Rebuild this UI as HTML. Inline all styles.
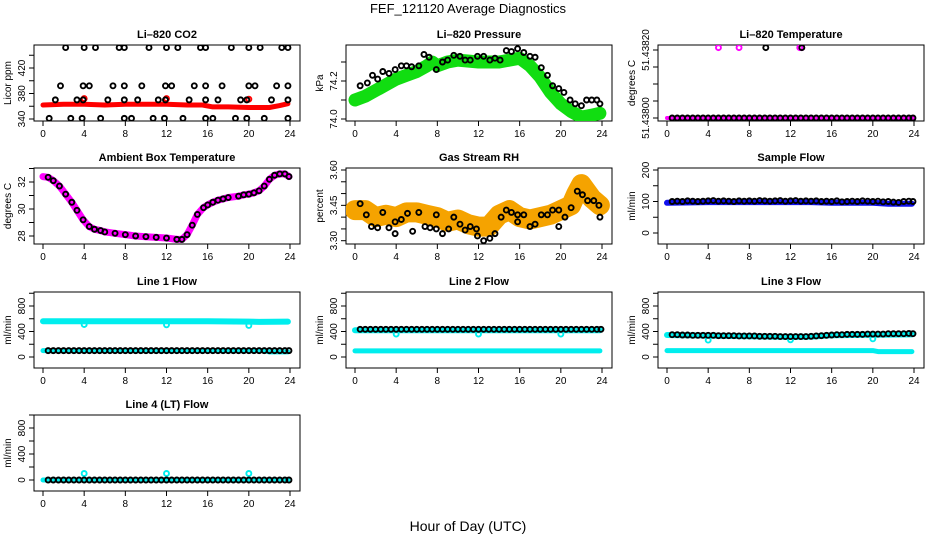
<!DOCTYPE html>
<html><head><meta charset="utf-8"><style>
html,body{margin:0;padding:0;background:#fff;}
svg{display:block;font-family:"Liberation Sans",sans-serif;}
</style></head><body>
<svg id="c" width="936" height="540" viewBox="0 0 936 540" xmlns="http://www.w3.org/2000/svg">
<text x="468" y="13" text-anchor="middle" font-size="13">FEF_121120  Average Diagnostics</text>
<text x="468" y="531" text-anchor="middle" font-size="14">Hour of Day (UTC)</text>
</svg>
<script>
// ---------- DATA ----------
const H = [0.5,1,1.5,2,2.5,3,3.5,4,4.5,5,5.5,6,6.5,7,7.5,8,8.5,9,9.5,10,10.5,11,11.5,12,12.5,13,13.5,14,14.5,15,15.5,16,16.5,17,17.5,18,18.5,19,19.5,20,20.5,21,21.5,22,22.5,23,23.5,23.9];
const xTicks = [0,4,8,12,16,20,24];

// CO2
const co2Hours = [2.2,4,5.1,7.4,7.9,10.3,12,13.1,15.3,15.8,18.3,20,21.1,23.2,23.8, 1.7,3.9,4.5,6.8,7.9,9.6,11.9,12.5,14.7,15.8,17.4,20,20.6,22.7,23.8, 1.2,3.3,3.9,6.3,7.9,9.2,11.2,11.9,14.2,15.8,17,19.2,19.8,22.2,23.8, 0.6,2.7,3.8,5.6,7.9,8.6,10.7,11.8,13.6,15.8,16.5,18.7,19.8,21.5,23.8];
const co2Values = [452,452,452,452,452,452,452,452,452,452,452,452,452,452,452, 392,392,392,392,392,392,392,392,392,392,392,392,392,392,392, 370,370,370,370,370,370,370,370,370,370,370,370,370,370,370, 341,341,341,341,341,341,341,341,341,341,341,341,341,341,341];
const co2BandHours = [0,2,4,6,8,10,12,14,15.5,16.5,18,20,22,23,23.8];
const co2BandValues = [362,363,363,362,363,363,363,362,362,359,359,358,358,361,364];
const co2SpikeHours = [4,12,20];
const co2SpikeValues = [372,372,371];

// Pressure
const presHours = [0.5,1.2,1.7,2.2,2.7,3.3,3.9,4.5,5,5.5,6.2,6.7,7.2,7.9,8.5,9,9.6,10.2,10.7,11.2,11.9,12.5,13.1,13.6,14.1,14.7,15.2,15.8,16.4,17,17.5,18.1,18.7,19.2,19.8,20.3,20.9,21.4,22,22.5,23,23.5,23.8];
const presValues = [74.175,74.19,74.23,74.21,74.25,74.24,74.26,74.28,74.28,74.275,74.28,74.34,74.325,74.26,74.30,74.31,74.335,74.33,74.31,74.31,74.33,74.33,74.31,74.32,74.31,74.36,74.355,74.37,74.35,74.33,74.325,74.27,74.23,74.175,74.16,74.14,74.10,74.08,74.07,74.10,74.10,74.10,74.08];
const presBandHours = [0,1,2,3,4,5,6,7,7.5,8,9,10,12,14,15,16,17,18,19,20,21,22,23,23.8];
const presBandValues = [74.10,74.12,74.15,74.18,74.21,74.23,74.25,74.28,74.30,74.28,74.30,74.31,74.30,74.30,74.31,74.32,74.28,74.22,74.14,74.08,74.04,74.01,74.02,74.03];

// Li-820 temperature
const tempBottom = [51.438,51.438,51.438,51.438,51.438,51.438,51.438,51.438,51.438,51.438,51.438,51.438,51.438,51.438,51.438,51.438,51.438,51.438,51.438,51.438,51.438,51.438,51.438,51.438,51.438,51.438,51.438,51.438,51.438,51.438,51.438,51.438,51.438,51.438,51.438,51.438,51.438,51.438,51.438,51.438,51.438,51.438,51.438,51.438,51.438,51.438,51.438,51.438];
const tempMagHours = [5,7,12.9,13.1];
const tempMagValues = [51.438207,51.438207,51.438207,51.438207];
const tempBlkHours = [9.6,13.1];
const tempBlkValues = [51.438207,51.438207];

// Ambient box temperature
const ambHours = [0,0.5,1,1.6,2.2,2.8,3.3,3.9,4.5,5,5.6,6,7,8,9,10,11,12,13,13.5,14,14.5,15,15.6,16,16.5,17,17.5,18,19,19.5,20,20.5,21,21.5,22,22.5,23,23.5,23.9];
const ambValues = [32.4,32.35,32.1,31.7,31.1,30.5,29.9,29.2,28.7,28.5,28.4,28.3,28.2,28.1,28.0,27.95,27.9,27.85,27.75,27.75,28.1,28.8,29.6,30.1,30.3,30.5,30.65,30.75,30.85,30.95,31.05,31.1,31.2,31.35,31.7,32.2,32.5,32.6,32.6,32.4];

// Gas stream RH
const rhHours = [0.5,1.1,1.6,2.2,2.7,3.3,3.9,3.9,4.5,5.1,5.6,6.2,6.8,7.3,7.9,7.9,8.5,9.1,9.6,10.2,10.7,11.2,11.8,11.9,12.5,13.1,13.6,14.2,14.7,15.2,15.8,15.8,16.4,17,17.5,18.1,18.7,19.2,19.8,19.8,20.4,21,21.6,22.1,22.6,23.2,23.7,23.8];
const rhValues = [3.457,3.41,3.36,3.355,3.42,3.355,3.38,3.33,3.39,3.416,3.34,3.42,3.36,3.355,3.41,3.35,3.33,3.35,3.40,3.37,3.345,3.36,3.35,3.32,3.30,3.31,3.33,3.40,3.43,3.42,3.38,3.41,3.41,3.36,3.37,3.41,3.41,3.43,3.43,3.36,3.40,3.44,3.51,3.495,3.47,3.47,3.45,3.40];
const rhBandHours = [0,1,2,3,4,5,6,7,8,9,10,11,12,13,14,15,16,17,18,19,20,21,21.5,22,23,23.8];
const rhBandValues = [3.43,3.43,3.40,3.41,3.40,3.42,3.42,3.41,3.40,3.38,3.39,3.37,3.36,3.36,3.41,3.43,3.40,3.39,3.40,3.41,3.43,3.45,3.50,3.54,3.48,3.45];

// Sample flow
const sampleValues = [100,101,100,102,101,100,101,102,103,101,102,101,100,102,101,102,101,103,102,101,102,103,101,102,103,101,102,101,102,100,101,100,102,99,100,101,100,102,101,100,101,99,100,98,97,100,101,100];
const sampleBandHours = [0,4,8,14,16,20,21.5,23.8];
const sampleBandValues = [96,98,98,98,96,96,93,93];

// Line flows
const line1Black = [100,100,100,100,100,100,100,100,100,100,100,100,100,100,100,100,100,100,100,100,100,100,100,100,100,100,100,100,100,100,100,100,100,100,100,100,100,100,100,100,100,100,100,100,100,100,100,100];
const line1UpperHours = [0,8,16,20,21,23.8];
const line1UpperValues = [560,560,560,555,550,555];
const line1LowerHours = [0,8,16,21.5,22,23.8];
const line1LowerValues = [100,100,100,100,80,80];
const dipHours = [4,12,20];
const line1Dips = [510,505,495];

const line2Black = [435,435,435,435,435,435,435,435,435,435,435,435,435,435,435,435,435,435,435,435,435,435,435,435,435,435,435,435,435,435,435,435,435,435,435,435,435,435,435,435,435,435,435,435,435,435,435,435];
const line2UpperHours = [0,12,23.8];
const line2UpperValues = [420,420,420];
const line2LowerHours = [0,12,23.8];
const line2LowerValues = [95,95,95];
const line2Dips = [360,360,360];

const line3Black = [350,350,345,345,340,340,340,340,340,335,335,335,335,330,330,330,330,325,325,325,325,320,320,320,320,320,320,325,330,335,340,345,350,350,355,355,355,355,360,360,360,360,365,365,365,365,370,365];
const line3UpperHours = [0,4,8,12,14,16,20,23.8];
const line3UpperValues = [345,335,325,315,320,340,350,355];
const line3LowerHours = [0,8,14.5,20,20.5,23.8];
const line3LowerValues = [100,100,100,100,85,85];
const line3Dips = [265,270,285];

const line4Black = [0,0,0,0,0,0,0,0,0,0,0,0,0,0,0,0,0,0,0,0,0,0,0,0,0,0,0,0,0,0,0,0,0,0,0,0,0,0,0,0,0,0,0,0,0,0,0,0];
const line4BandHours = [0,23.8];
const line4BandValues = [0,0];
const line4Dips = [100,100,100];

// ---------- DRAWING ----------
const svg = document.getElementById('c');
const NS = 'http://www.w3.org/2000/svg';
function mk(tag, attrs, parent){
  const e = document.createElementNS(NS, tag);
  for (const k in attrs) e.setAttribute(k, attrs[k]);
  (parent||svg).appendChild(e);
  return e;
}
const colLeft = [34,346,658];
const rowTop = [45,168,292,415];
const BW = 266, BH = 76;

function panel(name, col, row, title, ylab, v0, p0, v1, p1, ticks, labels){
  const g = mk('g', {});
  
  
  const L = colLeft[col], T = rowTop[row];
  const xs = h => L + 9 + h * (247/24);
  const ys = v => T + p0 + (v - v0) * (p1 - p0) / (v1 - v0);
  const box = mk('rect', {x:L, y:T, width:BW, height:BH, fill:'none', stroke:'#000', 'stroke-width':1}, g);
  
  
  const t = mk('text', {x:L+BW/2, y:T-7, 'text-anchor':'middle', 'font-size':11, 'font-weight':'bold'}, g);
  t.textContent = title;
  
  
  const yl = mk('text', {x:0, y:0, 'text-anchor':'middle', 'font-size':10, transform:`translate(${L-23},${T+BH/2}) rotate(-90)`}, g);
  yl.textContent = ylab;
  
  
  const xa = mk('g', {}, g);
  
  
  mk('line', {x1:xs(xTicks[0]), x2:xs(xTicks[xTicks.length-1]), y1:T+BH, y2:T+BH, stroke:'#000'}, xa);
  xTicks.forEach(v => {
    mk('line', {x1:xs(v), x2:xs(v), y1:T+BH, y2:T+BH+5, stroke:'#000'}, xa);
    const tx = mk('text', {x:xs(v), y:T+BH+16, 'text-anchor':'middle', 'font-size':10}, xa);
    tx.textContent = v;
    
    
  });
  const ya = mk('g', {}, g);
  
  
  mk('line', {x1:L, x2:L, y1:ys(ticks[0]), y2:ys(ticks[ticks.length-1]), stroke:'#000'}, ya);
  ticks.forEach(v => {
    mk('line', {x1:L-5, x2:L, y1:ys(v), y2:ys(v), stroke:'#000'}, ya);
  });
  labels.forEach(lb => {
    const tx = mk('text', {x:0, y:0, 'text-anchor':'middle', 'font-size':10, transform:`translate(${L-9},${ys(lb[0])}) rotate(-90)`}, ya);
    tx.textContent = lb[1];
    
    
  });
  const clip = 'clip-' + name;
  const cp = mk('clipPath', {id:clip}, g);
  mk('rect', {x:L, y:T, width:BW, height:BH}, cp);
  const plot = mk('g', {'clip-path':`url(#${clip})`}, g);
  
  
  return {xs, ys, plot};
}
function band(p, name, hours, vals, color, w){
  const pts = hours.map((h,i) => p.xs(h).toFixed(1) + ',' + p.ys(vals[i]).toFixed(1)).join(' ');
  const e = mk('polyline', {points:pts, fill:'none', stroke:color, 'stroke-width':w, 'stroke-linejoin':'round', 'stroke-linecap':'round'}, p.plot);
  
  
}
function circles(p, name, hours, vals, color, r, sw){
  const g = mk('g', {}, p.plot);
  
  
  hours.forEach((h,i) => {
    const c = mk('circle', {cx:p.xs(h), cy:p.ys(vals[i]), r:r||2.5, fill:'none', stroke:color, 'stroke-width':sw||1.9}, g);
    
    
  });
}
const R = 2.5, SW = 1.9;

let p = panel('co2', 0, 0, 'Li\u2013820 CO2', 'Licor ppm', 340, 74, 420, 23, [340,360,380,400,420,440], [[340,'340'],[380,'380'],[420,'420']]);
band(p, 'co2-red-band', co2BandHours, co2BandValues, '#ff0000', 5);
circles(p, 'co2-red-spikes', co2SpikeHours, co2SpikeValues, '#ff0000', R, SW);
circles(p, 'co2-black-points', co2Hours, co2Values, '#000', R, SW);

p = panel('pressure', 1, 0, 'Li\u2013820 Pressure', 'kPa', 74.0, 74, 74.2, 36, [74.0,74.1,74.2,74.3], [[74.0,'74.0'],[74.2,'74.2']]);
band(p, 'pressure-green-band', presBandHours, presBandValues, '#11dd11', 13);
circles(p, 'pressure-black-points', presHours, presValues, '#000', R, SW);

p = panel('li820-temp', 2, 0, 'Li\u2013820 Temperature', 'degrees C', 51.438, 73, 51.4382, 5, [51.438,51.43805,51.4381,51.43815,51.4382], [[51.438,'51.43800'],[51.4382,'51.43820']]);
band(p, 'temp-magenta-band', [0,23.9], [51.438,51.438], '#ff00ff', 4);
circles(p, 'temp-black-points', H, tempBottom, '#000', R, SW);
circles(p, 'temp-magenta-outliers', tempMagHours, tempMagValues, '#ff00ff', R, SW);
circles(p, 'temp-black-outliers', tempBlkHours, tempBlkValues, '#000', R, SW);

p = panel('ambient', 0, 1, 'Ambient Box Temperature', 'degrees C', 28, 68, 32, 14, [28,29,30,31,32,33], [[28,'28'],[30,'30'],[32,'32']]);
band(p, 'ambient-magenta-band', ambHours, ambValues, '#ff00ff', 7);
circles(p, 'ambient-black-points', ambHours.slice(1), ambValues.slice(1), '#000', R, SW);

p = panel('rh', 1, 1, 'Gas Stream RH', 'percent', 3.30, 72.7, 3.60, 2, [3.30,3.35,3.40,3.45,3.50,3.55,3.60], [[3.30,'3.30'],[3.45,'3.45'],[3.60,'3.60']]);
band(p, 'rh-orange-band', rhBandHours, rhBandValues, '#f5a300', 20);
circles(p, 'rh-black-points', rhHours, rhValues, '#000', R, SW);

p = panel('sample-flow', 2, 1, 'Sample Flow', 'ml/min', 0, 65, 200, 2, [0,50,100,150,200], [[0,'0'],[100,'100'],[200,'200']]);
band(p, 'sample-blue-band', sampleBandHours, sampleBandValues, '#1010ee', 6);
circles(p, 'sample-black-points', H, sampleValues, '#000', R, SW);

const flowTicks = [0,200,400,600,800,1000];
const flowLabels = [[0,'0'],[400,'400'],[800,'800']];
p = panel('line1', 0, 2, 'Line 1 Flow', 'ml/min', 0, 65, 800, 14, flowTicks, flowLabels);
band(p, 'line1-cyan-upper', line1UpperHours, line1UpperValues, '#00eeee', 6);
band(p, 'line1-cyan-lower', line1LowerHours, line1LowerValues, '#00eeee', 5);
circles(p, 'line1-cyan-dips', dipHours, line1Dips, '#00eeee', R, SW);
circles(p, 'line1-black-points', H, line1Black, '#000', R, SW);

p = panel('line2', 1, 2, 'Line 2 Flow', 'ml/min', 0, 65, 800, 14, flowTicks, flowLabels);
band(p, 'line2-cyan-upper', line2UpperHours, line2UpperValues, '#00eeee', 6);
band(p, 'line2-cyan-lower', line2LowerHours, line2LowerValues, '#00eeee', 5);
circles(p, 'line2-cyan-dips', dipHours, line2Dips, '#00eeee', R, SW);
circles(p, 'line2-black-points', H, line2Black, '#000', R, SW);

p = panel('line3', 2, 2, 'Line 3 Flow', 'ml/min', 0, 65, 800, 14, flowTicks, flowLabels);
band(p, 'line3-cyan-upper', line3UpperHours, line3UpperValues, '#00eeee', 6);
band(p, 'line3-cyan-lower', line3LowerHours, line3LowerValues, '#00eeee', 5);
circles(p, 'line3-cyan-dips', dipHours, line3Dips, '#00eeee', R, SW);
circles(p, 'line3-black-points', H, line3Black, '#000', R, SW);

p = panel('line4', 0, 3, 'Line 4 (LT) Flow', 'ml/min', 0, 65, 800, 13, flowTicks, flowLabels);
band(p, 'line4-cyan-band', line4BandHours, line4BandValues, '#00eeee', 5);
circles(p, 'line4-cyan-dips', dipHours, line4Dips, '#00eeee', R, SW);
circles(p, 'line4-black-points', H, line4Black, '#000', R, SW);
</script>
</body></html>
